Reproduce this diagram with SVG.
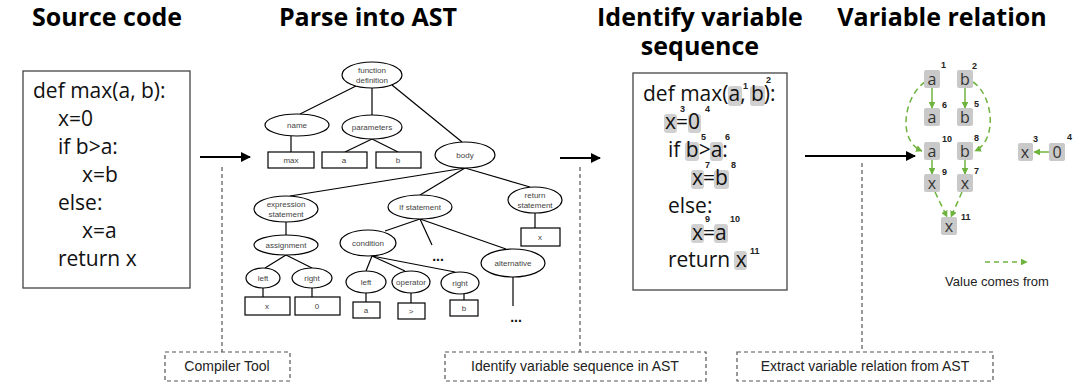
<svg xmlns="http://www.w3.org/2000/svg" width="1080" height="392" viewBox="0 0 1080 392">
<style>
.title{font-family:"Open Sans","Liberation Sans",sans-serif;font-weight:bold;font-size:25px;fill:#000;text-anchor:middle}
.code{font-family:"Open Sans","Liberation Sans",sans-serif;font-size:21px;fill:#111}
.box{fill:#fff;stroke:#444;stroke-width:1.3}
.ell{fill:#fff;stroke:#000;stroke-width:1.2}
.rect{fill:#fff;stroke:#000;stroke-width:1.2}
.edge{stroke:#000;stroke-width:1.2;fill:none}
.at{font-family:"Liberation Sans",sans-serif;font-size:8px;fill:#444;text-anchor:middle}
.dots{font-family:"Liberation Sans",sans-serif;font-size:14px;font-weight:bold;fill:#111;text-anchor:middle}
.arrow{stroke:#000;stroke-width:2;fill:none}
.vdash{stroke:#333;stroke-width:1;stroke-dasharray:4 3;fill:none}
.dbox{fill:#fff;stroke:#555;stroke-width:1.2;stroke-dasharray:4 3}
.lbl{font-family:"Liberation Sans",sans-serif;font-size:14px;fill:#222;text-anchor:middle}
.hl{fill:#d0d0d0}
.sup{font-family:"Liberation Sans",sans-serif;font-size:9px;font-weight:bold;fill:#222}
.vn{fill:#c9c9c9}
.vt{font-family:"Open Sans","Liberation Sans",sans-serif;font-size:16px;fill:#333;text-anchor:middle}
.g{stroke:#6fb33f;stroke-width:1.5;fill:none}
.gd{stroke:#6fb33f;stroke-width:1.5;fill:none;stroke-dasharray:6 4}
.leg{font-family:"Liberation Sans",sans-serif;font-size:13px;fill:#222;text-anchor:middle}
</style>
<defs>
<marker id="bk" viewBox="0 0 10 10" refX="9" refY="5" markerWidth="5" markerHeight="5" orient="auto"><path d="M0,0L10,5L0,10z" fill="#000"/></marker>
<marker id="gr" viewBox="0 0 10 10" refX="9" refY="5" markerWidth="4.5" markerHeight="4.5" orient="auto"><path d="M0,0L10,5L0,10z" fill="#6fb33f"/></marker>
</defs>
<rect width="1080" height="392" fill="#fff"/>

<g id="titles">
<text class="title" x="107" y="26">Source code</text>
<text class="title" x="368" y="26">Parse into AST</text>
<text class="title" x="700" y="26">Identify variable</text>
<text class="title" x="700" y="55">sequence</text>
<text class="title" x="942" y="26">Variable relation</text>
</g>

<g id="source-code">
<rect class="box" x="23" y="71" width="167" height="217"/>
<text class="code" x="33" y="98">def max(a, b):</text>
<text class="code" x="58" y="126">x=0</text>
<text class="code" x="58" y="154">if b&gt;a:</text>
<text class="code" x="82" y="182">x=b</text>
<text class="code" x="58" y="210">else:</text>
<text class="code" x="82" y="238">x=a</text>
<text class="code" x="58" y="266">return x</text>
</g>

<g id="connectors">
<line class="arrow" x1="200" y1="157" x2="250" y2="157" marker-end="url(#bk)"/>
<line class="arrow" x1="560" y1="158" x2="600" y2="158" marker-end="url(#bk)"/>
<line class="arrow" x1="805" y1="156" x2="915" y2="156" marker-end="url(#bk)"/>
<line class="vdash" x1="222" y1="167" x2="222" y2="352"/>
<line class="vdash" x1="580" y1="167" x2="580" y2="352"/>
<line class="vdash" x1="862" y1="163" x2="862" y2="352"/>
</g>

<g id="ast">
<g id="ast-edges">
<line class="edge" x1="356" y1="86" x2="300" y2="114"/>
<line class="edge" x1="372" y1="87" x2="372" y2="116"/>
<line class="edge" x1="392" y1="85" x2="462" y2="142"/>
<line class="edge" x1="291" y1="136" x2="291" y2="152"/>
<line class="edge" x1="372" y1="139" x2="345" y2="152"/>
<line class="edge" x1="372" y1="139" x2="398" y2="152"/>
<line class="edge" x1="465" y1="168" x2="290" y2="196"/>
<line class="edge" x1="465" y1="168" x2="420" y2="195"/>
<line class="edge" x1="465" y1="168" x2="530" y2="187"/>
<line class="edge" x1="286" y1="222" x2="286" y2="235"/>
<line class="edge" x1="286" y1="255" x2="265" y2="268"/>
<line class="edge" x1="286" y1="255" x2="312" y2="268"/>
<line class="edge" x1="263" y1="288" x2="263" y2="297"/>
<line class="edge" x1="312" y1="288" x2="312" y2="297"/>
<line class="edge" x1="420" y1="219" x2="385" y2="231"/>
<line class="edge" x1="420" y1="219" x2="432" y2="245"/>
<line class="edge" x1="420" y1="219" x2="506" y2="249"/>
<line class="edge" x1="372" y1="256" x2="366" y2="271"/>
<line class="edge" x1="372" y1="256" x2="405" y2="271"/>
<line class="edge" x1="372" y1="256" x2="455" y2="272"/>
<line class="edge" x1="366" y1="293" x2="366" y2="302"/>
<line class="edge" x1="411" y1="293" x2="411" y2="303"/>
<line class="edge" x1="464" y1="294" x2="464" y2="300"/>
<line class="edge" x1="513" y1="277" x2="513" y2="306"/>
<line class="edge" x1="535" y1="213" x2="535" y2="228"/>
</g>
<g id="n-funcdef"><ellipse class="ell" cx="372" cy="75" rx="30" ry="13"/><text class="at" x="372" y="73">function</text><text class="at" x="372" y="83">definition</text></g>
<g id="n-name"><ellipse class="ell" cx="297" cy="125" rx="32" ry="11"/><text class="at" x="297" y="128">name</text></g>
<g id="n-params"><ellipse class="ell" cx="372" cy="127" rx="30" ry="12"/><text class="at" x="372" y="130">parameters</text></g>
<g id="n-body"><ellipse class="ell" cx="465" cy="155" rx="30" ry="13"/><text class="at" x="465" y="158">body</text></g>
<g id="n-max"><rect class="rect" x="268" y="152" width="46" height="16"/><text class="at" x="291" y="163">max</text></g>
<g id="n-pa"><rect class="rect" x="322" y="152" width="45" height="16"/><text class="at" x="344" y="163">a</text></g>
<g id="n-pb"><rect class="rect" x="376" y="152" width="45" height="16"/><text class="at" x="398" y="163">b</text></g>
<g id="n-expr"><ellipse class="ell" cx="286" cy="209" rx="32" ry="13"/><text class="at" x="286" y="207">expression</text><text class="at" x="286" y="217">statement</text></g>
<g id="n-assign"><ellipse class="ell" cx="286" cy="245" rx="32" ry="10"/><text class="at" x="286" y="248">assignment</text></g>
<g id="n-left1"><ellipse class="ell" cx="263" cy="278" rx="17" ry="10"/><text class="at" x="263" y="281">left</text></g>
<g id="n-right1"><ellipse class="ell" cx="312" cy="278" rx="20" ry="10"/><text class="at" x="312" y="281">right</text></g>
<g id="n-x1"><rect class="rect" x="245" y="297" width="45" height="18"/><text class="at" x="267" y="309">x</text></g>
<g id="n-zero"><rect class="rect" x="295" y="297" width="45" height="18"/><text class="at" x="317" y="309">0</text></g>
<g id="n-if"><ellipse class="ell" cx="420" cy="207" rx="32" ry="12"/><text class="at" x="420" y="210">If statement</text></g>
<g id="n-cond"><ellipse class="ell" cx="368" cy="243" rx="28" ry="13"/><text class="at" x="368" y="246">condition</text></g>
<g id="n-left2"><ellipse class="ell" cx="366" cy="282" rx="20" ry="11"/><text class="at" x="366" y="285">left</text></g>
<g id="n-op"><ellipse class="ell" cx="411" cy="282" rx="19" ry="11"/><text class="at" x="411" y="285">operator</text></g>
<g id="n-right2"><ellipse class="ell" cx="460" cy="283" rx="19" ry="11"/><text class="at" x="460" y="286">right</text></g>
<g id="n-ca"><rect class="rect" x="353" y="302" width="27" height="16"/><text class="at" x="366" y="313">a</text></g>
<g id="n-cgt"><rect class="rect" x="398" y="303" width="27" height="16"/><text class="at" x="411" y="314">&gt;</text></g>
<g id="n-cb"><rect class="rect" x="450" y="300" width="28" height="16"/><text class="at" x="464" y="311">b</text></g>
<g id="n-dots1"><text class="dots" x="438" y="261">...</text></g>
<g id="n-alt"><ellipse class="ell" cx="513" cy="263" rx="32" ry="14"/><text class="at" x="513" y="266">alternative</text></g>
<g id="n-dots2"><text class="dots" x="516" y="322">...</text></g>
<g id="n-ret"><ellipse class="ell" cx="535" cy="200" rx="27" ry="13"/><text class="at" x="535" y="198">return</text><text class="at" x="535" y="208">statement</text></g>
<g id="n-retx"><rect class="rect" x="521" y="228" width="39" height="18"/><text class="at" x="540" y="240">x</text></g>
</g>

<g id="variable-sequence">
<rect class="box" x="633" y="73" width="154" height="217"/>
<rect class="hl" x="728" y="86" width="14" height="20" rx="3"/>
<rect class="hl" x="750" y="86" width="15" height="20" rx="3"/>
<rect class="hl" x="664" y="114" width="13" height="19" rx="3"/>
<rect class="hl" x="688" y="114" width="13" height="19" rx="3"/>
<rect class="hl" x="685" y="142" width="14" height="19" rx="3"/>
<rect class="hl" x="710" y="142" width="13" height="19" rx="3"/>
<rect class="hl" x="691" y="170" width="13" height="19" rx="3"/>
<rect class="hl" x="714" y="170" width="15" height="19" rx="3"/>
<rect class="hl" x="691" y="224" width="13" height="19" rx="3"/>
<rect class="hl" x="714" y="224" width="14" height="19" rx="3"/>
<rect class="hl" x="734" y="251" width="13" height="19" rx="3"/>
<text class="code" x="643" y="101">def max(a, b):</text>
<text class="code" x="665" y="129">x=0</text>
<text class="code" x="668" y="157">if b&gt;a:</text>
<text class="code" x="692" y="185">x=b</text>
<text class="code" x="668" y="213">else:</text>
<text class="code" x="692" y="240">x=a</text>
<text class="code" x="668" y="267">return x</text>
<text class="sup" x="743" y="89">1</text>
<text class="sup" x="766" y="83">2</text>
<text class="sup" x="680" y="112">3</text>
<text class="sup" x="705" y="112">4</text>
<text class="sup" x="701" y="140">5</text>
<text class="sup" x="725" y="140">6</text>
<text class="sup" x="705" y="168">7</text>
<text class="sup" x="731" y="168">8</text>
<text class="sup" x="705" y="222">9</text>
<text class="sup" x="730" y="222">10</text>
<text class="sup" x="750" y="254">11</text>
</g>

<g id="variable-relation">
<g id="rel-edges">
<line class="g" x1="932" y1="88" x2="932" y2="108" marker-end="url(#gr)"/>
<line class="g" x1="965" y1="88" x2="965" y2="108" marker-end="url(#gr)"/>
<line class="g" x1="932" y1="160" x2="932" y2="174" marker-end="url(#gr)"/>
<line class="g" x1="965" y1="160" x2="965" y2="174" marker-end="url(#gr)"/>
<line class="g" x1="1049" y1="152" x2="1034" y2="152" marker-end="url(#gr)"/>
<path class="gd" d="M925,82 C905,95 896,140 922,151" marker-end="url(#gr)"/>
<path class="gd" d="M973,82 C993,95 998,140 975,151" marker-end="url(#gr)"/>
<line class="gd" x1="935" y1="192" x2="947" y2="217" marker-end="url(#gr)"/>
<line class="gd" x1="962" y1="192" x2="951" y2="217" marker-end="url(#gr)"/>
</g>
<g id="v-a1"><rect class="vn" x="924" y="70" width="16" height="18" rx="2"/><text class="vt" x="932" y="85">a</text><text class="sup" x="941" y="68">1</text></g>
<g id="v-b2"><rect class="vn" x="957" y="70" width="16" height="18" rx="2"/><text class="vt" x="965" y="85">b</text><text class="sup" x="972" y="69">2</text></g>
<g id="v-a6"><rect class="vn" x="924" y="108" width="16" height="18" rx="2"/><text class="vt" x="932" y="123">a</text><text class="sup" x="942" y="108">6</text></g>
<g id="v-b5"><rect class="vn" x="957" y="108" width="16" height="18" rx="2"/><text class="vt" x="965" y="123">b</text><text class="sup" x="974" y="107">5</text></g>
<g id="v-a10"><rect class="vn" x="924" y="142" width="16" height="18" rx="2"/><text class="vt" x="932" y="157">a</text><text class="sup" x="942" y="142">10</text></g>
<g id="v-b8"><rect class="vn" x="957" y="142" width="16" height="18" rx="2"/><text class="vt" x="965" y="157">b</text><text class="sup" x="974" y="141">8</text></g>
<g id="v-x9"><rect class="vn" x="924" y="174" width="16" height="18" rx="2"/><text class="vt" x="932" y="189">x</text><text class="sup" x="942" y="175">9</text></g>
<g id="v-x7"><rect class="vn" x="957" y="174" width="16" height="18" rx="2"/><text class="vt" x="965" y="189">x</text><text class="sup" x="974" y="174">7</text></g>
<g id="v-x11"><rect class="vn" x="941" y="217" width="16" height="18" rx="2"/><text class="vt" x="949" y="232">x</text><text class="sup" x="961" y="220">11</text></g>
<g id="v-x3"><rect class="vn" x="1018" y="143" width="15" height="18" rx="2"/><text class="vt" x="1025" y="158">x</text><text class="sup" x="1033" y="142">3</text></g>
<g id="v-04"><rect class="vn" x="1049" y="143" width="16" height="18" rx="2"/><text class="vt" x="1057" y="158">0</text><text class="sup" x="1067" y="140">4</text></g>
<g id="legend">
<line class="gd" x1="985" y1="262" x2="1027" y2="262" marker-end="url(#gr)" style="stroke-dasharray:5 4"/>
<text class="leg" x="997" y="286">Value comes from</text>
</g>
</g>

<g id="tool-labels">
<g id="l-compiler"><rect class="dbox" x="165" y="352" width="125" height="29"/><text class="lbl" x="227" y="371">Compiler Tool</text></g>
<g id="l-identify"><rect class="dbox" x="445" y="352" width="261" height="29"/><text class="lbl" x="575" y="371">Identify variable sequence in AST</text></g>
<g id="l-extract"><rect class="dbox" x="737" y="352" width="256" height="29"/><text class="lbl" x="865" y="371">Extract variable relation from AST</text></g>
</g>
</svg>
